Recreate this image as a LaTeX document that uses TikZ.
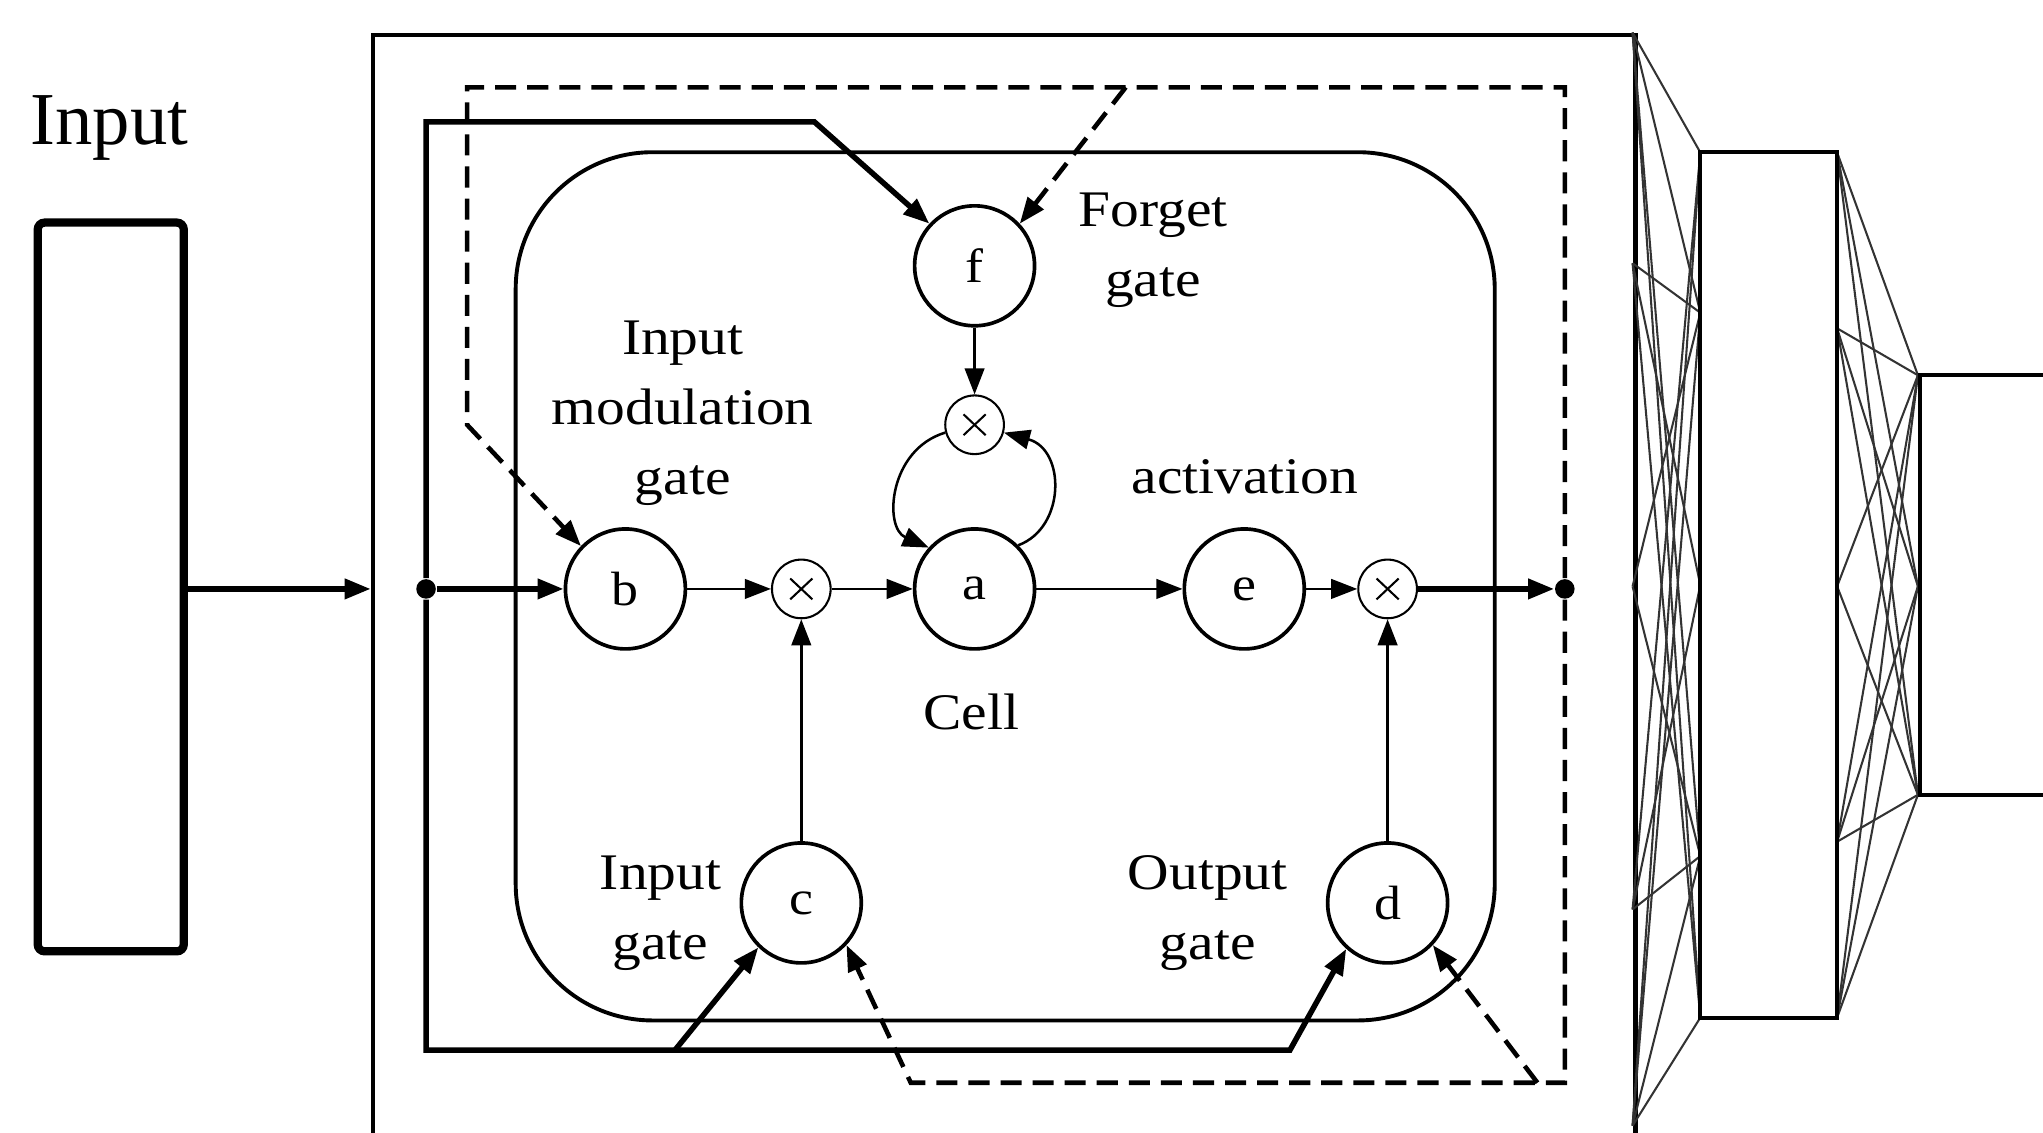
\documentclass[tikz,border=0pt]{standalone}
\usepackage{fontspec}
\setmainfont{Liberation Serif}
\newfontfamily\lblfont[FakeStretch=1.12]{Liberation Serif}
\usetikzlibrary{arrows.meta}
\begin{document}
\begin{tikzpicture}[x=0.01cm,y=-0.01cm,
  >={Triangle[length=0.2cm,width=0.15cm]},
  lbl/.style={font=\lblfont\fontsize{11.2}{15.3}\selectfont, align=center, inner sep=0pt},
  gatenode/.style={circle, draw, line width=0.8pt, minimum size=0.92cm, inner sep=0pt, font=\lblfont\fontsize{10.5}{12}\selectfont},
  mulnode/.style={circle, draw, line width=0.45pt, minimum size=0.45cm, inner sep=0pt, path picture={
      \draw[line width=0.45pt] ([shift={(-0.085cm,-0.08cm)}]path picture bounding box.center) -- ([shift={(0.085cm,0.08cm)}]path picture bounding box.center);
      \draw[line width=0.45pt] ([shift={(-0.085cm,0.08cm)}]path picture bounding box.center) -- ([shift={(0.085cm,-0.08cm)}]path picture bounding box.center);}},
  dotnode/.style={circle, fill, inner sep=0pt, minimum size=0.15cm},
  thickln/.style={line width=1.2pt},
  thinln/.style={line width=0.55pt},
  dashln/.style={line width=1pt, dash pattern=on 4.6pt off 2.4pt},
  netln/.style={line width=0.45pt, black!80},
  boxln/.style={draw, line width=0.9pt, inner sep=0pt}
]
\useasboundingbox (0,0) rectangle (1568,869);
\clip (0,0) rectangle (1568,869);

% ---------- input block ----------
\node[font=\fontsize{16.3}{19}\selectfont, anchor=base, inner sep=0pt] (tinput) at (84,111) {Input};
\node[draw, line width=1.8pt, rounded corners=1.5pt, minimum width=1.12cm, minimum height=5.59cm, inner sep=0pt] (inbox) at (85,450.5) {};

% ---------- outer LSTM box ----------
\node[draw, line width=1pt, minimum width=9.685cm, minimum height=9.5cm, inner sep=0pt, anchor=north west] (outer) at (284.5,25) {};
\draw[thickln,->] (inbox.east |- 0,452) -- (outer.west |- 0,452);

% ---------- cell ----------
\node[draw, line width=0.85pt, rounded corners=1.05cm, minimum width=7.51cm, minimum height=6.66cm, inner sep=0pt] (cell) at (771.5,450) {};

% ---------- nodes ----------
\node[gatenode] (f) at (748,204) {f};
\node[gatenode] (b) at (480,452) {b};
\node[gatenode] (a) at (748,452) {a};
\node[gatenode] (e) at (955,452) {e};
\node[gatenode] (c) at (615,693) {c};
\node[gatenode] (d) at (1065,693) {d};
\node[mulnode] (m1) at (615,452) {};
\node[mulnode] (mt) at (748,326) {};
\node[mulnode] (m2) at (1065,452) {};
\node[dotnode] (pin) at (327,452) {};
\node[dotnode] (pout) at (1201,452) {};

% ---------- labels ----------
\node[lbl] (tforget) at (885,192) {Forget\\gate};
\node[lbl] (tinmod) at (524,317) {Input\\modulation\\gate};
\node[lbl, anchor=base] (tact) at (955.5,379) {activation};
\node[lbl, anchor=base] (tcell) at (745.5,560) {Cell};
\node[lbl] (tingate) at (507,701) {Input\\gate};
\node[lbl] (toutgate) at (927,701) {Output\\gate};

% ---------- main row ----------
\draw[thickln,->] (pin) -- (b);
\draw[thinln,->] (b) -- (m1);
\draw[thinln,->] (m1) -- (a);
\draw[thinln,->] (a) -- (e);
\draw[thinln,->] (e) -- (m2);
\draw[thickln,->] (m2) -- (pout);
\draw[thinln,->] (f) -- (mt);
\draw[thinln,->] (c) -- (m1);
\draw[thinln,->] (d) -- (m2);

% self loop
\draw[thinln,->] (mt.195) .. controls (682,345) and (678,405) .. (a.138);
\draw[thinln,->] (a.45) .. controls (818,405) and (818,345) .. (mt.-15);

% ---------- solid routing ----------
\coordinate (st1) at (327,93.5);
\coordinate (st2) at (625,93.5);
\coordinate (sb1) at (327,806);
\coordinate (sb2) at (990,806);
\coordinate (sbc) at (518,806);
\draw[thickln,->] (pin) -- (st1) -- (st2) -- (f.137);
\draw[thickln,->] (pin) -- (sb1) -- (sb2) -- (d.228);
\draw[thickln,->] (sbc) -- (c.226);

% ---------- dashed routing ----------
\coordinate (dt1) at (1201,67);
\coordinate (dt2) at (358.5,67);
\coordinate (dt3) at (358.5,326);
\coordinate (dtf) at (864,67);
\coordinate (db1) at (1201,831);
\coordinate (db2) at (699,831);
\coordinate (dbd) at (1180,831);
\draw[dashln,->] (pout) -- (dt1) -- (dt2) -- (dt3) -- (b.136);
\draw[dashln,->] (dtf) -- (f.43);
\draw[dashln,->] (pout) -- (db1) -- (db2) -- (c.-43);
\draw[dashln,->] (dbd) -- (d.-43);

% ---------- network at right ----------
\coordinate (L0) at (1253,25);
\coordinate (L1) at (1253,202);
\coordinate (L2) at (1253,450);
\coordinate (L3) at (1253,698);
\coordinate (L4) at (1253,864);
\coordinate (M0) at (1305,117);
\coordinate (M1) at (1305,240);
\coordinate (M2) at (1305,449);
\coordinate (M3) at (1305,657);
\coordinate (M4) at (1305,781);
\coordinate (N0) at (1410,117);
\coordinate (N1) at (1410,252);
\coordinate (N2) at (1410,450);
\coordinate (N3) at (1410,646);
\coordinate (N4) at (1410,781);
\coordinate (O0) at (1472,288);
\coordinate (O1) at (1472,450);
\coordinate (O2) at (1472,610);

\foreach \i/\j in {0/0,0/1,0/3,0/4,1/1,1/2,1/4,2/1,2/3,3/0,3/2,3/3,4/0,4/1,4/3,4/4}
  \draw[netln] (L\i) -- (M\j);
\foreach \i/\j in {0/0,0/1,0/2,1/0,1/1,1/2,2/0,2/2,3/0,3/1,3/2,4/0,4/1,4/2}
  \draw[netln] (N\i) -- (O\j);

\node[boxln, minimum width=1.05cm, minimum height=6.64cm] (hid) at (1357.5,449) {};
\node[boxln, minimum width=2cm, minimum height=3.22cm, anchor=west] (outbox) at (1472,449) {};
\end{tikzpicture}
\end{document}
